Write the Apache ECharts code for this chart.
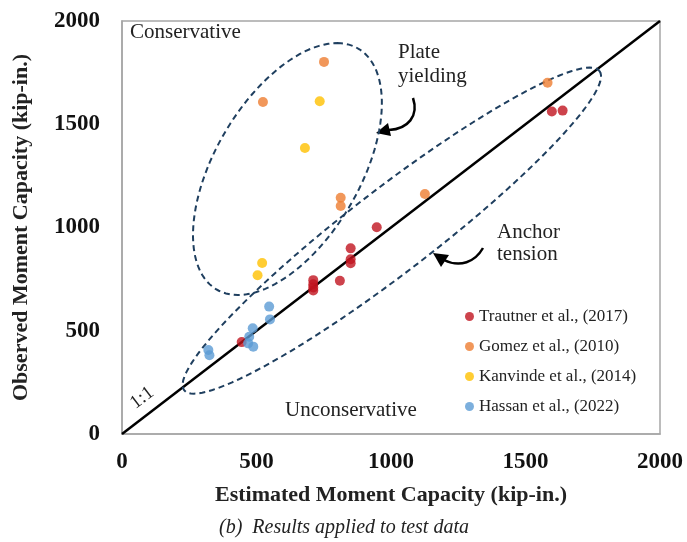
<!DOCTYPE html>
<html>
<head>
<meta charset="utf-8">
<script src="https://cdn.jsdelivr.net/npm/echarts@6/dist/echarts.min.js"></script>
<style>
  html, body { margin: 0; padding: 0; background: #fff; }
  #main { width: 687px; height: 542px; }
</style>
</head>
<body>
<div id="main"></div>
<script>
// values (kip-in.)
var trautnerX = [445, 711, 711, 711, 711, 810, 850, 850, 850, 947, 1598, 1638];
var trautnerY = [445, 745, 725, 710, 695, 742, 899, 846, 827, 1001, 1562, 1566];
var gomezX = [524, 751, 813, 813, 1126, 1582];
var gomezY = [1608, 1802, 1144, 1104, 1162, 1701];
var kanvindeX = [735, 680, 521, 504];
var kanvindeY = [1611, 1385, 828, 769];
var hassanX = [547, 550, 486, 473, 469, 488, 321, 325];
var hassanY = [617, 555, 512, 471, 439, 423, 407, 381];

// dashed ellipses (data units: centre and two conjugate half-axes)
var plateEllipse = { c: [615, 1283], a: [184, 610], b: [299, 0] };
var anchorEllipse = { c: [1003, 985], a: [772, 773], b: [95, -161] };
var ellipses = [plateEllipse, anchorEllipse];

function pairs(xs, ys) {
  return xs.map(function (x, i) { return [x, ys[i]]; });
}

var serif = '"Liberation Serif", "Times New Roman", serif';

var myChart = echarts.init(document.getElementById('main'));

function scatter(name, color, xs, ys) {
  return {
    name: name,
    type: 'scatter',
    symbolSize: 10,
    itemStyle: { color: color },
    data: pairs(xs, ys),
    z: 5
  };
}

var option = {
  animation: false,
  backgroundColor: '#fff',
  grid: {
    left: 122, right: 27, top: 21, bottom: 108,
    show: true, borderColor: '#a6a6a6', borderWidth: 1.5
  },
  legend: {
    orient: 'vertical',
    left: 460, top: 303,
    itemGap: 13,
    itemWidth: 9, itemHeight: 9,
    icon: 'circle',
    textStyle: { fontFamily: serif, fontSize: 17, color: '#222' },
    data: ['Trautner et al., (2017)', 'Gomez et al., (2010)', 'Kanvinde et al., (2014)', 'Hassan et al., (2022)']
  },
  xAxis: {
    type: 'value', min: 0, max: 2000, interval: 500,
    name: 'Estimated Moment Capacity (kip-in.)',
    nameLocation: 'middle', nameGap: 50,
    nameTextStyle: { fontFamily: serif, fontSize: 22, fontWeight: 'bold', color: '#222' },
    axisLine: { show: true, lineStyle: { color: '#a6a6a6', width: 1.5 } },
    axisTick: { show: false },
    splitLine: { show: false },
    axisLabel: {
      margin: 17, fontFamily: serif, fontSize: 23, fontWeight: 'bold', color: '#111',
      formatter: function (v) { return String(v); }
    }
  },
  yAxis: {
    type: 'value', min: 0, max: 2000, interval: 500,
    name: 'Observed Moment Capacity (kip-in.)',
    nameLocation: 'middle', nameGap: 90,
    nameTextStyle: { fontFamily: serif, fontSize: 22, fontWeight: 'bold', color: '#222' },
    axisLine: { show: true, lineStyle: { color: '#a6a6a6', width: 1.5 } },
    axisTick: { show: false },
    splitLine: { show: false },
    axisLabel: {
      margin: 22, fontFamily: serif, fontSize: 23, fontWeight: 'bold', color: '#111',
      formatter: function (v) { return String(v); }
    }
  },
  series: [
    {
      name: '1:1',
      type: 'line',
      data: [[0, 0], [2000, 2000]],
      symbol: 'none',
      silent: true,
      lineStyle: { color: '#000', width: 2.5 },
      z: 3
    },
    {
      name: 'ellipses',
      type: 'custom',
      silent: true,
      data: [[0, 0], [0, 0]],
      z: 4,
      renderItem: function (params, api) {
        var e = ellipses[params.dataIndex];
        var pts = [];
        for (var k = 0; k <= 120; k++) {
          var t = k / 120 * Math.PI * 2;
          var c = Math.cos(t), s = Math.sin(t);
          pts.push(api.coord([e.c[0] + e.a[0] * c + e.b[0] * s, e.c[1] + e.a[1] * c + e.b[1] * s]));
        }
        return {
          type: 'polyline',
          shape: { points: pts },
          style: { stroke: '#1f3f5f', lineWidth: 2, lineDash: [6, 4], fill: null }
        };
      }
    },
    scatter('Trautner et al., (2017)', '#c0141f', trautnerX, trautnerY),
    scatter('Gomez et al., (2010)', '#ed7d31', gomezX, gomezY),
    scatter('Kanvinde et al., (2014)', '#ffc000', kanvindeX, kanvindeY),
    scatter('Hassan et al., (2022)', '#5b9bd5', hassanX, hassanY)
  ],
  graphic: [
    { type: 'text', left: 130, top: 22, style: { text: 'Conservative', font: '21px ' + serif, fill: '#222' } },
    { type: 'text', left: 398, top: 42, style: { text: 'Plate', font: '21px ' + serif, fill: '#222' } },
    { type: 'text', left: 398, top: 66, style: { text: 'yielding', font: '21px ' + serif, fill: '#222' } },
    { type: 'text', left: 497, top: 222, style: { text: 'Anchor', font: '21px ' + serif, fill: '#222' } },
    { type: 'text', left: 497, top: 244, style: { text: 'tension', font: '21px ' + serif, fill: '#222' } },
    { type: 'text', left: 285, top: 400, style: { text: 'Unconservative', font: '21px ' + serif, fill: '#222' } },
    {
      type: 'text', x: 142, y: 398, rotation: 37.5 * Math.PI / 180,
      style: { text: '1:1', font: '19px ' + serif, fill: '#222', align: 'center', verticalAlign: 'middle' }
    },
    {
      type: 'text', x: 344, y: 528,
      style: { text: '(b)  Results applied to test data', font: 'italic 20px ' + serif, fill: '#222', align: 'center', verticalAlign: 'middle' }
    },
    // arrows
    {
      type: 'bezierCurve',
      shape: { x1: 413, y1: 98, cpx1: 419, cpy1: 116, cpx2: 408, cpy2: 129, x2: 389, y2: 130 },
      style: { stroke: '#000', lineWidth: 2.5, fill: null }
    },
    {
      type: 'polygon',
      shape: { points: [[376, 133], [391, 136], [388, 123]] },
      style: { fill: '#000' }
    },
    {
      type: 'bezierCurve',
      shape: { x1: 483, y1: 248, cpx1: 475, cpy1: 262, cpx2: 460, cpy2: 268, x2: 444, y2: 260 },
      style: { stroke: '#000', lineWidth: 2.5, fill: null }
    },
    {
      type: 'polygon',
      shape: { points: [[433, 253], [449, 255], [441, 267]] },
      style: { fill: '#000' }
    }
  ]
};

myChart.setOption(option);
</script>
</body>
</html>
